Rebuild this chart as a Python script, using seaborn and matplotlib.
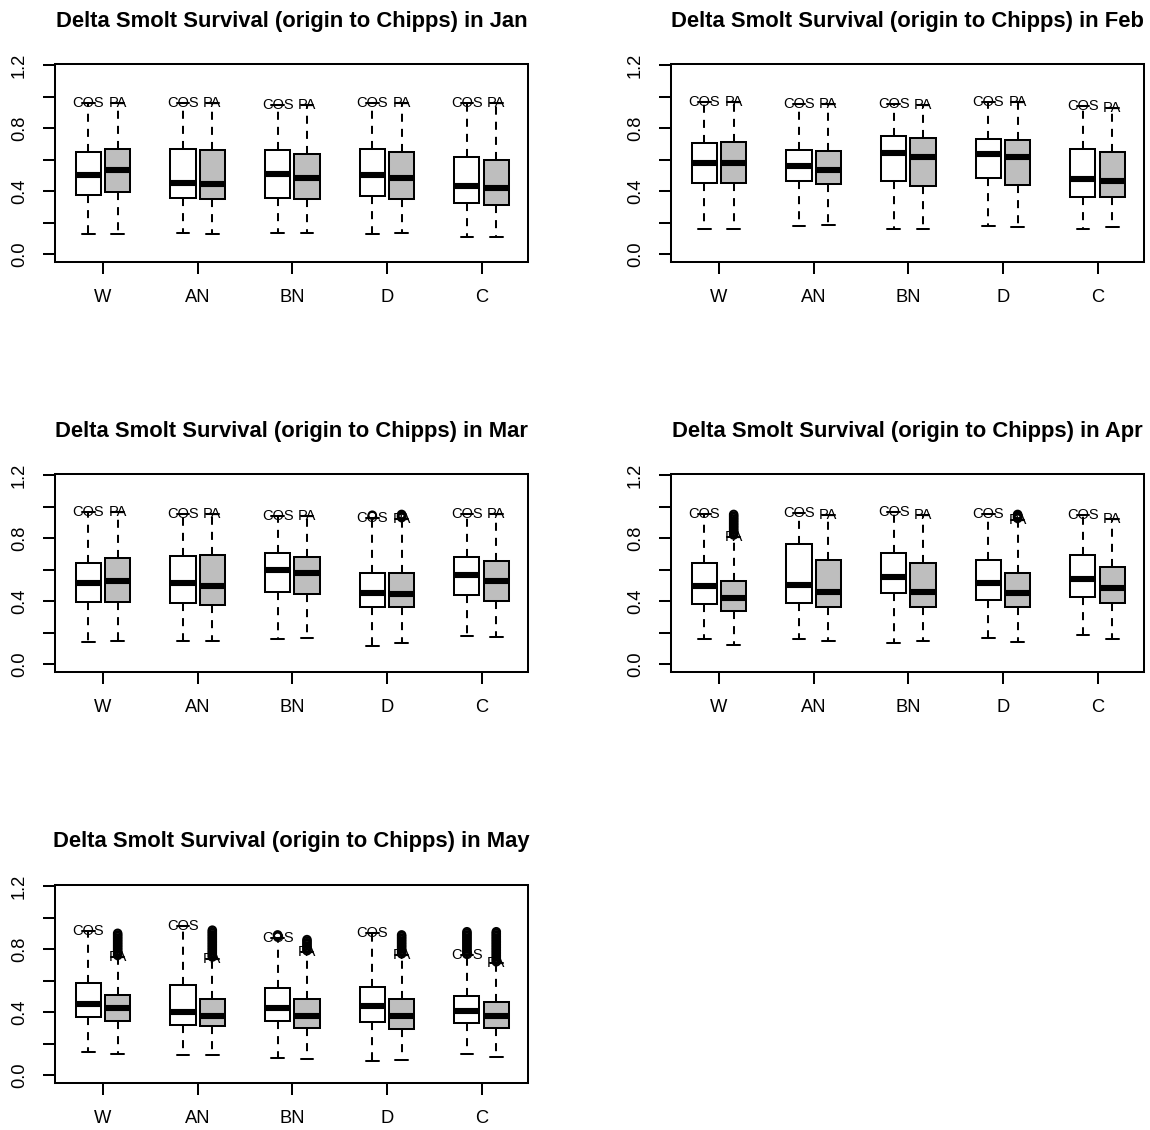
import numpy as np
import pandas as pd
import matplotlib
matplotlib.use("Agg")
import matplotlib.pyplot as plt
import seaborn as sns

WYT = ["W", "AN", "BN", "D", "C"]
SCEN = ["COS", "PA"]
MONTHS = ["Jan", "Feb", "Mar", "Apr", "May"]

# five-number summaries per water-year type (W, AN, BN, D, C):
# [lower whisker, Q1, median, Q3, upper whisker]
jan_cos = [[0.130, 0.376, 0.505, 0.648, 0.960],
           [0.134, 0.355, 0.455, 0.665, 0.960],
           [0.138, 0.355, 0.512, 0.663, 0.945],
           [0.132, 0.367, 0.503, 0.665, 0.960],
           [0.110, 0.323, 0.435, 0.620, 0.960]]
jan_pa = [[0.127, 0.397, 0.537, 0.667, 0.960],
          [0.132, 0.350, 0.448, 0.660, 0.960],
          [0.136, 0.348, 0.482, 0.635, 0.945],
          [0.138, 0.352, 0.484, 0.648, 0.960],
          [0.110, 0.314, 0.423, 0.599, 0.960]]
feb_cos = [[0.164, 0.454, 0.582, 0.703, 0.965],
           [0.183, 0.465, 0.561, 0.663, 0.955],
           [0.164, 0.465, 0.644, 0.752, 0.955],
           [0.180, 0.484, 0.637, 0.731, 0.965],
           [0.159, 0.365, 0.476, 0.667, 0.940]]
feb_pa = [[0.164, 0.450, 0.582, 0.714, 0.965],
          [0.187, 0.444, 0.537, 0.654, 0.955],
          [0.159, 0.435, 0.614, 0.737, 0.945],
          [0.172, 0.442, 0.616, 0.722, 0.965],
          [0.172, 0.365, 0.465, 0.648, 0.930]]
mar_cos = [[0.142, 0.395, 0.516, 0.641, 0.965],
           [0.149, 0.387, 0.518, 0.686, 0.955],
           [0.164, 0.457, 0.595, 0.705, 0.940],
           [0.115, 0.361, 0.452, 0.582, 0.925],
           [0.183, 0.437, 0.569, 0.680, 0.955]]
mar_pa = [[0.147, 0.395, 0.529, 0.673, 0.965],
          [0.151, 0.374, 0.497, 0.692, 0.955],
          [0.170, 0.446, 0.582, 0.680, 0.940],
          [0.136, 0.361, 0.448, 0.582, 0.920],
          [0.174, 0.404, 0.529, 0.656, 0.955]]
apr_cos = [[0.159, 0.382, 0.497, 0.641, 0.955],
           [0.159, 0.387, 0.505, 0.760, 0.960],
           [0.138, 0.450, 0.556, 0.707, 0.965],
           [0.168, 0.406, 0.516, 0.660, 0.955],
           [0.185, 0.425, 0.542, 0.690, 0.945]]
apr_pa = [[0.125, 0.336, 0.418, 0.527, 0.810],
          [0.149, 0.363, 0.457, 0.663, 0.945],
          [0.147, 0.363, 0.457, 0.641, 0.945],
          [0.142, 0.361, 0.450, 0.582, 0.915],
          [0.164, 0.391, 0.482, 0.616, 0.920]]
may_cos = [[0.149, 0.372, 0.452, 0.586, 0.915],
           [0.132, 0.321, 0.404, 0.573, 0.945],
           [0.113, 0.342, 0.429, 0.552, 0.870],
           [0.093, 0.338, 0.442, 0.563, 0.905],
           [0.138, 0.329, 0.410, 0.503, 0.760]]
may_pa = [[0.138, 0.346, 0.425, 0.508, 0.750],
          [0.132, 0.314, 0.378, 0.484, 0.740],
          [0.106, 0.300, 0.378, 0.484, 0.780],
          [0.096, 0.293, 0.374, 0.484, 0.760],
          [0.115, 0.302, 0.378, 0.463, 0.710]]

# outliers per water-year type (W, AN, BN, D, C)
jan_cos_out = [[], [], [], [], []]
jan_pa_out = [[], [], [], [], []]
feb_cos_out = [[], [], [], [], []]
feb_pa_out = [[], [], [], [], []]
mar_cos_out = [[], [], [], [0.945], []]
mar_pa_out = [[], [], [], [0.930, 0.935, 0.940, 0.945, 0.950], []]
apr_cos_out = [[], [], [], [], []]
apr_pa_out = [[0.82, 0.83, 0.84, 0.85, 0.86, 0.87, 0.88, 0.89, 0.90, 0.91, 0.92, 0.93, 0.94, 0.95],
              [], [],
              [0.925, 0.930, 0.935, 0.940, 0.945, 0.950],
              []]
may_cos_out = [[], [],
               [0.880, 0.885, 0.890],
               [],
               [0.77, 0.78, 0.79, 0.80, 0.81, 0.82, 0.83, 0.84, 0.85, 0.86, 0.87, 0.88, 0.89, 0.90, 0.91]]
may_pa_out = [[0.76, 0.77, 0.78, 0.79, 0.80, 0.81, 0.82, 0.83, 0.84, 0.85, 0.86, 0.87, 0.88, 0.89, 0.90],
              [0.75, 0.76, 0.77, 0.78, 0.79, 0.80, 0.81, 0.82, 0.83, 0.84, 0.85, 0.86, 0.87, 0.88, 0.89, 0.90, 0.91, 0.92],
              [0.79, 0.80, 0.81, 0.82, 0.83, 0.84, 0.85, 0.86],
              [0.77, 0.78, 0.79, 0.80, 0.81, 0.82, 0.83, 0.84, 0.85, 0.86, 0.87, 0.88, 0.89],
              [0.72, 0.73, 0.74, 0.75, 0.76, 0.77, 0.78, 0.79, 0.80, 0.81, 0.82, 0.83, 0.84, 0.85, 0.86, 0.87,
               0.88, 0.89, 0.90, 0.91]]

STATS = {"Jan": (jan_cos, jan_pa), "Feb": (feb_cos, feb_pa), "Mar": (mar_cos, mar_pa),
         "Apr": (apr_cos, apr_pa), "May": (may_cos, may_pa)}
OUTS = {"Jan": (jan_cos_out, jan_pa_out), "Feb": (feb_cos_out, feb_pa_out),
        "Mar": (mar_cos_out, mar_pa_out), "Apr": (apr_cos_out, apr_pa_out),
        "May": (may_cos_out, may_pa_out)}

sns.set_theme(style="white")
plt.rcParams["font.family"] = ["Liberation Sans", "DejaVu Sans"]
plt.rcParams["text.color"] = "black"

W_PX, H_PX = 1150, 1130
fig = plt.figure(figsize=(W_PX / 100, H_PX / 100), dpi=100)

col_left = [55, 671]
row_top = [64, 474, 885]
ax_w, ax_h = 473, 198

LW = 1.45
BOX_WIDTH = 0.62
GAP = 0.145
OFFS = {"COS": -BOX_WIDTH / 4, "PA": BOX_WIDTH / 4}
palette = {"COS": "white", "PA": "#BEBEBE"}

for i, m in enumerate(MONTHS):
    r, c = divmod(i, 2)
    rect = [col_left[c] / W_PX, 1 - (row_top[r] + ax_h) / H_PX, ax_w / W_PX, ax_h / H_PX]
    ax = fig.add_axes(rect)
    cos_s, pa_s = STATS[m]
    rows = []
    for scen, st in zip(SCEN, (cos_s, pa_s)):
        for w, vals in zip(WYT, st):
            for v in vals:
                rows.append({"wyt": w, "scen": scen, "value": v})
    df = pd.DataFrame(rows)
    sns.boxplot(data=df, x="wyt", y="value", hue="scen", order=WYT, hue_order=SCEN,
                palette=palette, saturation=1, width=BOX_WIDTH, gap=GAP,
                whis=(0, 100), linecolor="black", linewidth=LW, fliersize=0,
                medianprops=dict(linewidth=4.4, color="black", solid_capstyle="butt"),
                whiskerprops=dict(linestyle=(0, (4, 3.5)), linewidth=LW),
                capprops=dict(linewidth=LW),
                legend=False, ax=ax)
    # outliers
    orows = []
    for scen, outs in zip(SCEN, OUTS[m]):
        for gi, (w, vals) in enumerate(zip(WYT, outs)):
            for v in vals:
                orows.append({"pos": gi + OFFS[scen], "value": v})
    if orows:
        odf = pd.DataFrame(orows)
        sns.scatterplot(data=odf, x="pos", y="value", marker="o", s=30,
                        facecolor="none", edgecolor="black", linewidth=1.4, ax=ax, zorder=4)
    # scenario labels at upper whisker
    for scen, st in zip(SCEN, (cos_s, pa_s)):
        for gi, vals in enumerate(st):
            ax.text(gi + OFFS[scen], vals[4], scen, ha="center", va="center",
                    fontsize=10.5, color="black", zorder=5)
    ax.set_xlim(-0.507, 4.49)
    ax.set_ylim(-0.048, 1.206)
    ax.set_yticks([0.0, 0.2, 0.4, 0.6, 0.8, 1.0, 1.2])
    ax.set_yticklabels(["0.0", "", "0.4", "", "0.8", "", "1.2"], rotation=90, va="center")
    ax.set_xticks(range(len(WYT)))
    ax.set_xticklabels(WYT)
    ax.set_xlabel("")
    ax.set_ylabel("")
    ax.tick_params(axis="both", direction="out", length=8.5, width=LW, color="black",
                   labelsize=13.2, labelcolor="black", left=True, bottom=True)
    ax.tick_params(axis="x", pad=11)
    ax.tick_params(axis="y", pad=11)
    for sp in ax.spines.values():
        sp.set_visible(True)
        sp.set_color("black")
        sp.set_linewidth(LW)
    ax.set_title(f"Delta Smolt Survival (origin to Chipps) in {m}",
                 fontweight="bold", fontsize=15.8, pad=27, color="black")

fig.savefig("out.png", dpi=100, facecolor="white")
